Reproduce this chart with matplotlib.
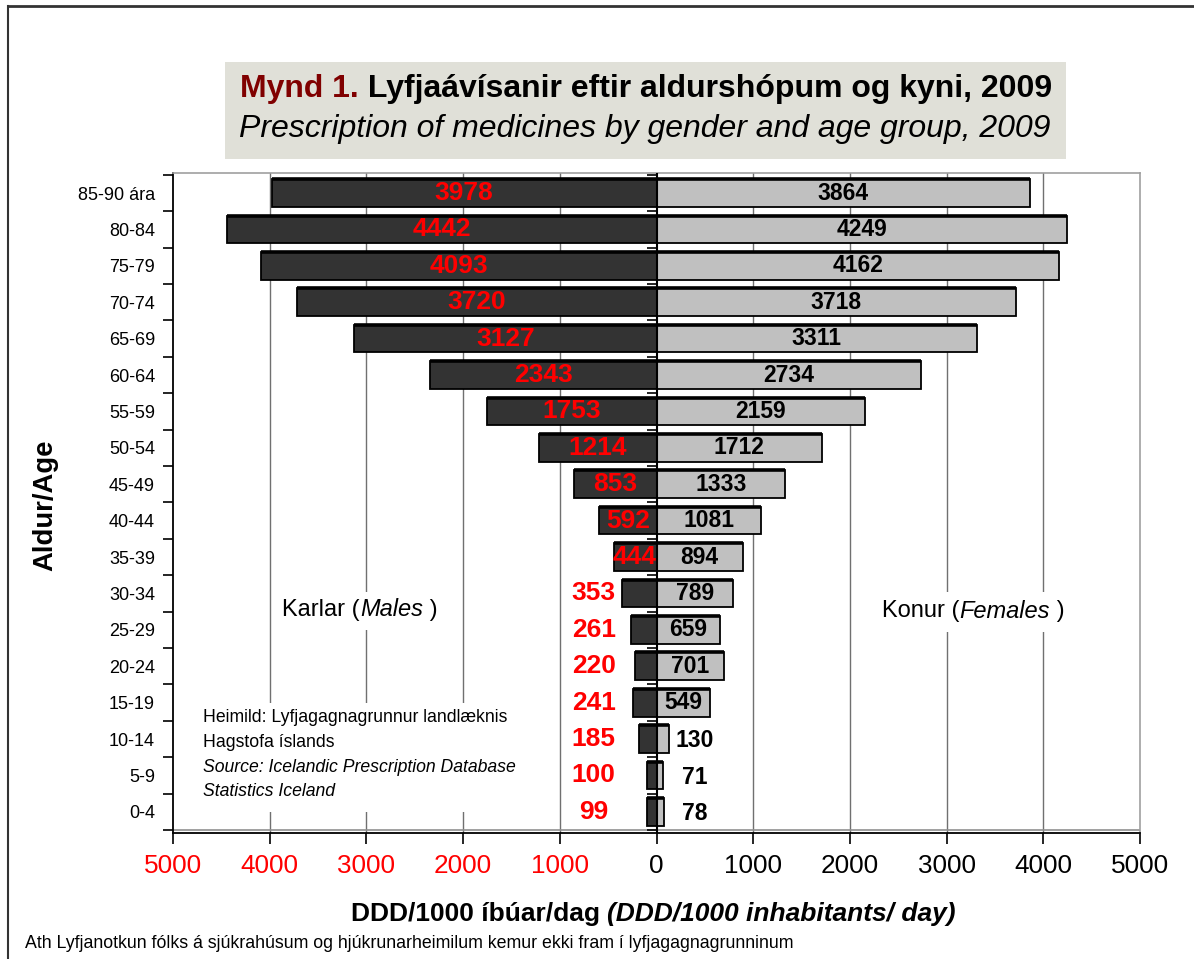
import numpy as np
import matplotlib
matplotlib.use('Agg')
import matplotlib.pyplot as plt
from matplotlib.patches import Rectangle
from matplotlib.lines import Line2D

plt.rcParams['font.family'] = ['Liberation Sans', 'DejaVu Sans']

# Data (top to bottom as shown in the chart)
age_groups = ['85-90 ára', '80-84', '75-79', '70-74', '65-69', '60-64', '55-59',
              '50-54', '45-49', '40-44', '35-39', '30-34', '25-29', '20-24',
              '15-19', '10-14', '5-9', '0-4']
males = [3978, 4442, 4093, 3720, 3127, 2343, 1753, 1214, 853, 592, 444,
         353, 261, 220, 241, 185, 100, 99]
females = [3864, 4249, 4162, 3718, 3311, 2734, 2159, 1712, 1333, 1081, 894,
           789, 659, 701, 549, 130, 71, 78]
xticks = [-5000, -4000, -3000, -2000, -1000, 0, 1000, 2000, 3000, 4000, 5000]

W, H = 1194, 959
fig = plt.figure(figsize=(W / 100, H / 100), dpi=100)

# plot area
ax = fig.add_axes([173 / W, 1 - 833 / H, (1140 - 173) / W, (833 - 173) / H])
n = len(age_groups)
ypos = np.arange(n)[::-1]          # first group at top
bh = 0.76

# gridlines
for gx in xticks[1:-1]:
    if gx != 0:
        ax.axvline(gx, color='#707070', lw=1.0, zorder=0)

ax.barh(ypos, [-m for m in males], height=bh, color='#333333',
        edgecolor='black', linewidth=1.3, zorder=2)
ax.barh(ypos, females, height=bh, color='#c0c0c0',
        edgecolor='black', linewidth=1.3, zorder=2)
# thicker top edge like the original
ax.hlines(ypos + bh / 2, [-m for m in males], females, color='black', lw=2.6, zorder=3)

# center line with small ticks at group boundaries
ax.axvline(0, color='black', lw=1.5, zorder=4)
bounds = np.arange(-0.5, n, 1.0)
ax.hlines(bounds, -100, 0, color='black', lw=1.2, zorder=4)
# gray frame line above the x axis
ax.axhline(-0.5, color='#909090', lw=1.2, zorder=1)

# value labels
for y, m, f in zip(ypos, males, females):
    if m >= 400:
        ax.text(-m / 2, y, str(m), color='red', fontsize=19, fontweight='bold',
                ha='center', va='center', zorder=5)
    else:
        ax.text(-650, y, str(m), color='red', fontsize=19, fontweight='bold',
                ha='center', va='center', zorder=5)
    if f >= 500:
        ax.text(f / 2, y, str(f), color='black', fontsize=16.5, fontweight='bold',
                ha='center', va='center', zorder=5)
    else:
        ax.text(400, y - 0.05, str(f), color='black', fontsize=16.5, fontweight='bold',
                ha='center', va='center', zorder=5)

ax.set_xlim(-5000, 5000)
ax.set_ylim(-0.58, 17.55)

ax.set_xticks(xticks)
ax.set_xticklabels([str(abs(t)) for t in xticks], fontsize=18.8)
for lab, t in zip(ax.get_xticklabels(), xticks):
    lab.set_color('red' if t < 0 else 'black')
ax.tick_params(axis='x', direction='out', length=8, width=1.2, pad=7)

ax.set_yticks(ypos)
ax.set_yticklabels(age_groups, fontsize=13)
ax.set_yticks(bounds, minor=True)
ax.tick_params(axis='y', which='major', length=0, pad=13)
ax.tick_params(axis='y', which='minor', direction='out', length=7.5, width=1.2)

for side in ['top', 'right']:
    ax.spines[side].set_color('#a0a0a0')
    ax.spines[side].set_linewidth(1.2)
for side in ['left', 'bottom']:
    ax.spines[side].set_color('black')
    ax.spines[side].set_linewidth(1.3)

renderer = fig.canvas.get_renderer()


def white_box(x0, y0, x1, y1):
    # white background behind text placed inside the plot (pixel coords)
    ax.add_patch(Rectangle((x0 / W, 1 - y1 / H), (x1 - x0) / W, (y1 - y0) / H,
                           transform=fig.transFigure, facecolor='white',
                           edgecolor='none', zorder=1))


def rich_text(xc, yc, parts, **kw):
    # draw pieces of differently styled text next to each other, centred on xc (pixels)
    objs = []
    for s, props in parts:
        t = fig.text(0, 1 - yc / H, s, ha='left', va='center', zorder=3, **kw, **props)
        objs.append(t)
    widths = [t.get_window_extent(renderer).width for t in objs]
    x = xc - sum(widths) / 2
    for t, w in zip(objs, widths):
        t.set_x(x / W)
        x += w
    return objs


white_box(272, 592, 448, 630)
white_box(875, 592, 1070, 632)
white_box(195, 703, 545, 812)

rich_text(360, 610, [('Karlar (', {}), ('Males', dict(style='italic')), (' )', {})],
          fontsize=17)
rich_text(973, 611, [('Konur (', {}), ('Females', dict(style='italic')), (' )', {})],
          fontsize=17)

# source notes
src = [('Heimild: Lyfjagagnagrunnur landlæknis', 'normal'),
       ('Hagstofa íslands', 'normal'),
       ('Source: Icelandic Prescription Database', 'italic'),
       ('Statistics Iceland', 'italic')]
for i, (s, st) in enumerate(src):
    fig.text(203 / W, 1 - (718 + 24.5 * i) / H, s, fontsize=12.7, style=st,
             ha='left', va='center', zorder=3)

# title box
fig.patches.append(Rectangle((225 / W, 1 - 159 / H), (1066 - 225) / W, 97 / H,
                             transform=fig.transFigure, facecolor='#e0e0d8',
                             edgecolor='none', zorder=0))
rich_text(646, 89, [('Mynd 1.', dict(color='#800000')),
                    (' Lyfjaávísanir eftir aldurshópum og kyni, 2009', dict(color='black'))],
          fontsize=23, fontweight='bold')
fig.text(645 / W, 1 - 129 / H, 'Prescription of medicines by gender and age group, 2009',
         fontsize=23, style='italic', ha='center', va='center')

# axis titles
rich_text(653, 914, [('DDD/1000 íbúar/dag ', dict(style='normal')),
                     ('(DDD/1000 inhabitants/ day)', dict(style='italic'))],
          fontsize=19, fontweight='bold')
fig.text(45 / W, 1 - 505 / H, 'Aldur/Age', fontsize=19.8, fontweight='bold',
         rotation=90, ha='center', va='center')

fig.text(25 / W, 1 - 943 / H,
         'Ath Lyfjanotkun fólks á sjúkrahúsum og hjúkrunarheimilum kemur ekki fram í lyfjagagnagrunninum',
         fontsize=12.8, ha='left', va='center')

# outer border (top and left only visible)
fig.lines.append(Line2D([8 / W, 1], [1 - 6 / H, 1 - 6 / H], transform=fig.transFigure,
                        color='#333333', lw=2))
fig.lines.append(Line2D([8 / W, 8 / W], [1 - 6 / H, 0], transform=fig.transFigure,
                        color='#333333', lw=1.5))

fig.savefig('out.png', dpi=100)
